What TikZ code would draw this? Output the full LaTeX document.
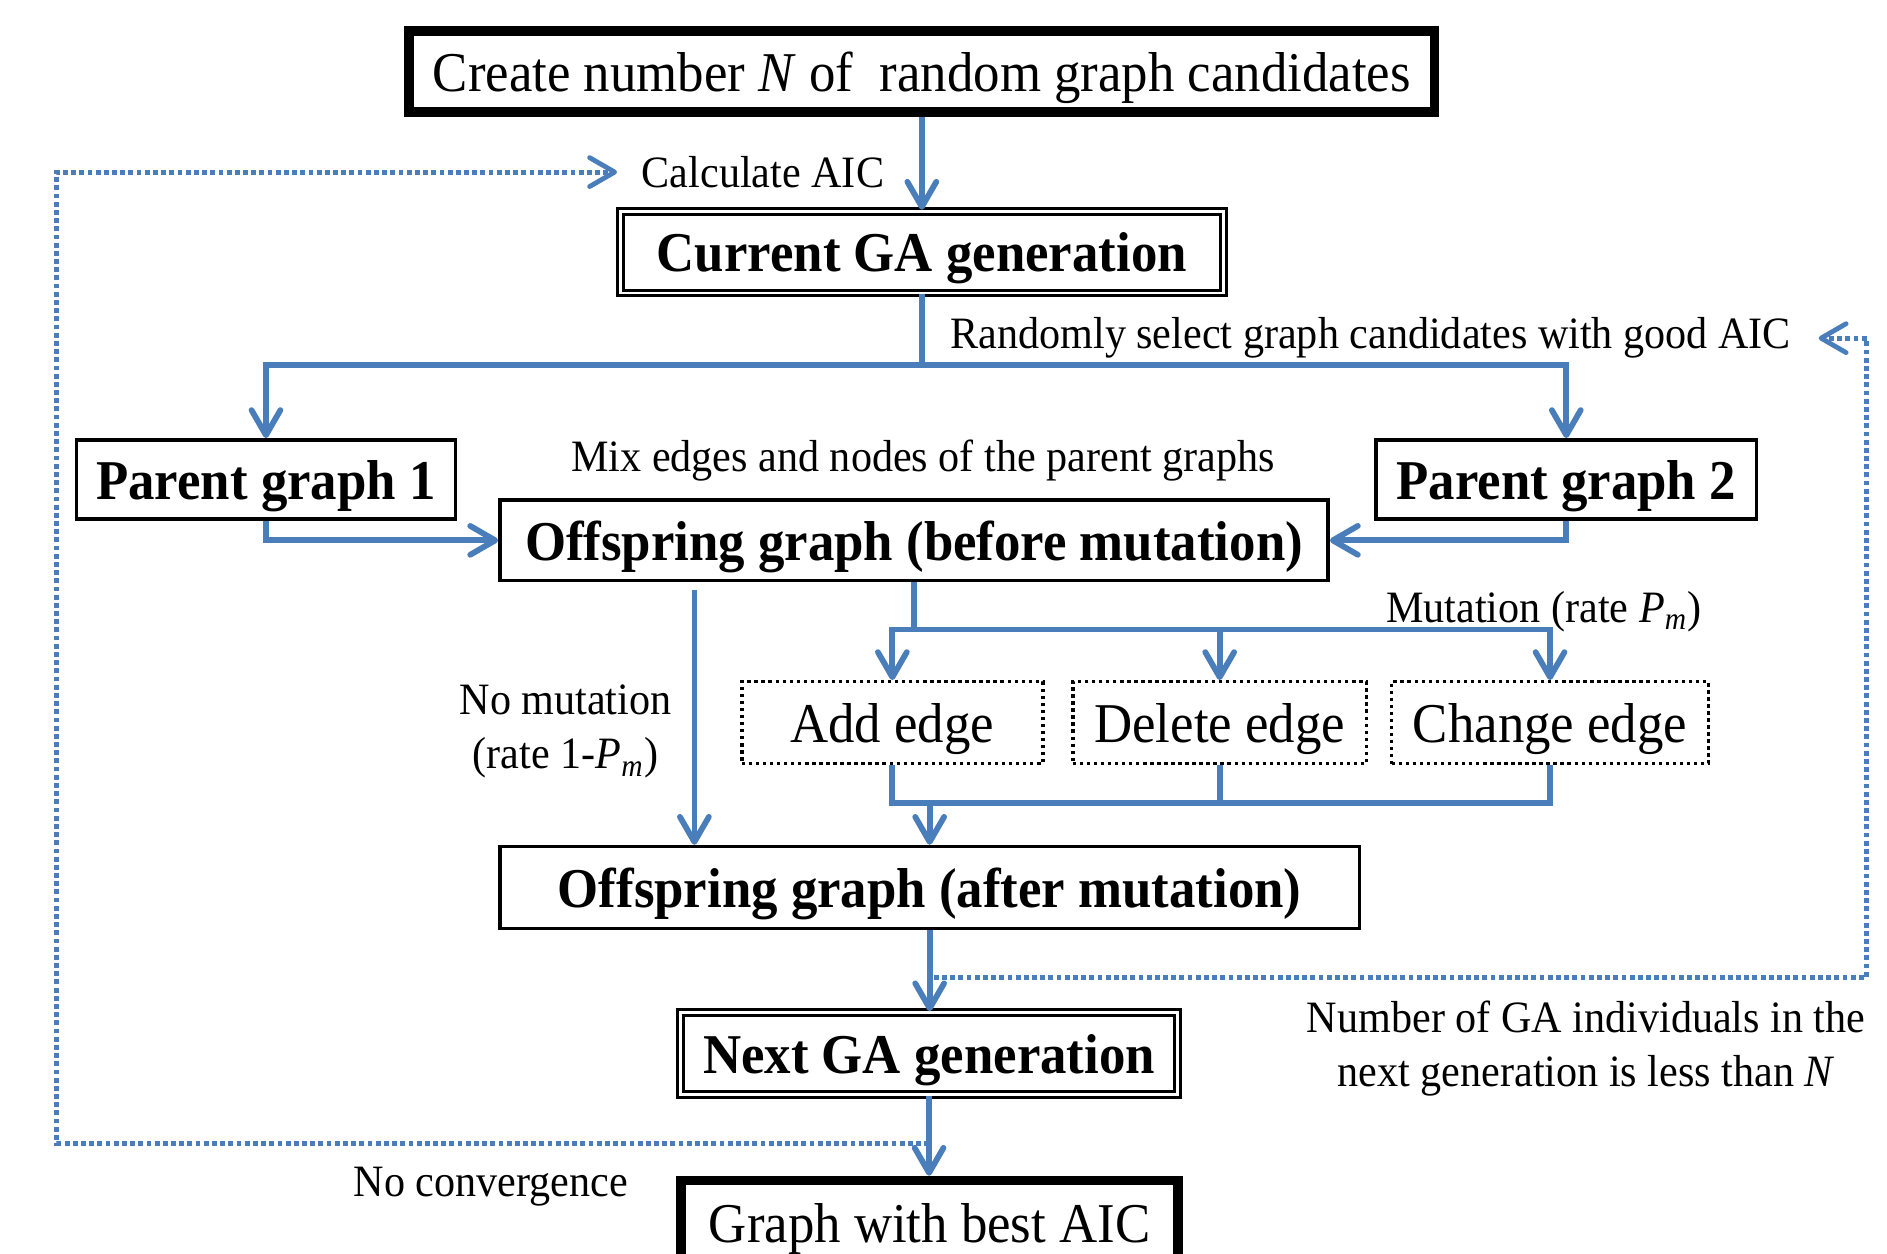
\documentclass[tikz,border=0pt]{standalone}
\usepackage{fontspec}
\setmainfont{Liberation Serif}[FakeStretch=0.94]
\usepackage{tikz}
\usetikzlibrary{arrows.meta,calc}
\definecolor{flowblue}{RGB}{74,126,187}
\newcommand{\Pmsub}{\textit{P\textsubscript{m}}}

\begin{document}
\begin{tikzpicture}[x=0.0125cm,y=-0.0125cm,>={Straight Barb[length=0.26cm,width=0.3cm,round]},
    box/.style={draw=black,inner sep=0pt,minimum height=0.85cm,text height=0.45cm,text depth=0.04cm,font=\fontsize{16.6}{19}\selectfont},
    plainbox/.style={box,line width=0.0375cm,font=\fontsize{16.6}{19}\selectfont\bfseries},
    thickbox/.style={box,line width=0.1cm},
    dblbox/.style={box,double,line width=0.03cm,double distance=0.03cm,font=\fontsize{16.6}{19}\selectfont\bfseries},
    dotbox/.style={box,line width=0.035cm,dash pattern=on 0.035cm off 0.038cm},
    flow/.style={draw=flowblue,line width=0.06cm},
    loopback/.style={draw=flowblue,line width=0.05cm,dash pattern=on 0.05cm off 0.035cm},
    lbl/.style={font=\fontsize{13.25}{16}\selectfont,inner sep=0pt,align=center}]
    \useasboundingbox (0,0) rectangle (1568,1042);
    \clip (0,0) rectangle (1568,1042);
    \node [thickbox,minimum width=10.65cm,minimum height=0.8375cm] (create) at (766,59.5) {Create number \textit{N} of\ \ random graph candidates};
    \node [dblbox,minimum width=6.2625cm] (current) at (766,209.5) {Current GA generation};
    \node [plainbox,minimum width=3.9375cm,minimum height=0.825cm] (pg1) at (221,398.5) {Parent graph 1};
    \node [plainbox,minimum width=3.95cm,minimum height=0.825cm] (pg2) at (1301.5,398.5) {Parent graph 2};
    \node [plainbox,minimum width=8.6cm,minimum height=0.8375cm] (before) at (759.5,449) {Offspring graph (before mutation)};
    \node [dotbox,minimum width=3.125cm] (add) at (741.5,600.5) {Add edge};
    \node [dotbox,minimum width=3.05cm] (del) at (1013.5,600.5) {Delete edge};
    \node [dotbox,minimum width=3.2875cm] (chg) at (1288,600.5) {Change edge};
    \node [plainbox,minimum width=8.925cm] (after) at (772.5,737.5) {Offspring graph (after mutation)};
    \node [dblbox,minimum width=5.1625cm] (next) at (772,875.5) {Next GA generation};
    \node [thickbox,minimum width=5.1625cm,minimum height=0.875cm] (best) at (772.5,1016) {Graph with best AIC};
    \node [lbl] (calc) at (634,143) {Calculate AIC};
    \node [lbl] (sel) at (1139,281) {Randomly select graph candidates with good AIC};
    \node [lbl] (mix) at (767,383) {Mix edges and nodes of the parent graphs};
    \node [lbl] (mut) at (1283,508) {Mutation (rate \Pmsub)};
    \node [lbl] (nomutlbl) at (470,608) {No mutation\\(rate 1-\Pmsub)};
    \node [lbl] (numlbl) at (1318,871) {Number of GA individuals in the\\next generation is less than \textit{N}};
    \node [lbl] (noconv) at (408,986) {No convergence};
    \coordinate (split1) at (766,303);
    \coordinate (split2) at (759.5,523);
    \coordinate (nomut) at (577,490);
    \coordinate (merge) at (772.5,667);
    \coordinate (lx) at (47,0);
    \coordinate (rx) at (1551,0);
    \coordinate (retl) at (772,950);
    \coordinate (retr) at (776,812);
    \draw[loopback,->,shorten >=0.25cm] (retl) -- (retl -| lx) |- (calc.west);
    \draw[loopback,->,shorten >=0.28cm] (retr) -- (retr -| rx) |- (sel.east);
    \draw[flow,->] (create.south) -- (current.north);
    \draw[flow] (current.south) -- (split1);
    \draw[flow,->] (split1) -| (pg1.north);
    \draw[flow,->] (split1) -| (pg2.north);
    \draw[flow,->] (pg1.south) |- (before.west);
    \draw[flow,->] (pg2.south) |- (before.east);
    \draw[flow] (before.south) -- (split2);
    \foreach \edgebox in {add,del,chg}
        \draw[flow,->] (split2) -| (\edgebox.north);
    \foreach \edgebox in {add,del,chg}
        \draw[flow] (\edgebox.south) |- (merge);
    \draw[flow,->] (nomut) -- (nomut |- after.north);
    \draw[flow,->] (merge) -- (after.north);
    \draw[flow,->] (after.south) -- (after.south |- next.north);
    \draw[flow,->] (next.south) -- (next.south |- best.north);
\end{tikzpicture}
\end{document}
